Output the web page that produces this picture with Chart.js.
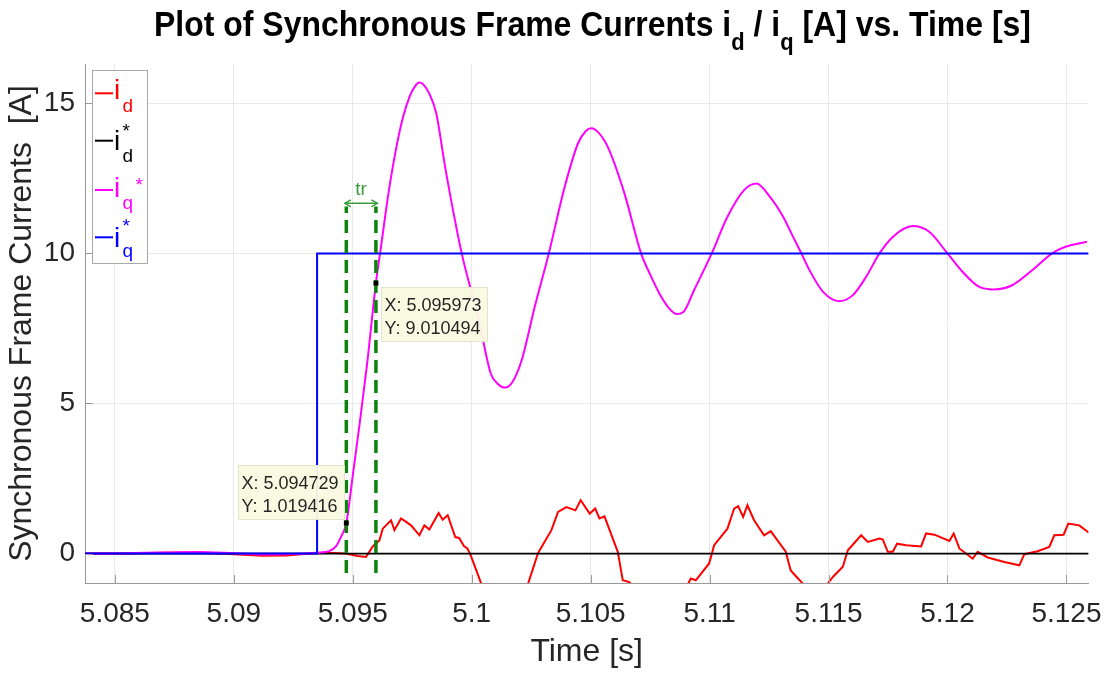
<!DOCTYPE html>
<html>
<head>
<meta charset="utf-8">
<script src="https://cdn.jsdelivr.net/npm/chart.js@4.4.1/dist/chart.umd.min.js"></script>
<style>
html,body{margin:0;padding:0;background:#fff;}
canvas{display:block;}
</style>
</head>
<body>
<canvas id="c" width="1116" height="673"></canvas>
<script>
// ---------- data ----------
const xMin = 5.083744, xMax = 5.125921;
const yMin = -0.98, yMax = 16.31;
const xTicks = [5.085, 5.09, 5.095, 5.1, 5.105, 5.11, 5.115, 5.12, 5.125];
const xTickLabels = ['5.085', '5.09', '5.095', '5.1', '5.105', '5.11', '5.115', '5.12', '5.125'];
const yTicks = [0, 5, 10, 15];
const yTickLabels = ['0', '5', '10', '15'];

// i_d (red)
const idT = [5.08374,5.0855,5.087,5.0885,5.0900,5.0912,5.0922,5.0932,5.0940,5.0947,5.0952,5.09556,5.09584,5.09612,5.09626,5.09661,5.09675,5.09703,5.09745,5.0978,5.09801,5.09822,5.09861,5.09878,5.09899,5.09931,5.09947,5.09968,5.09982,5.09996,5.1004,5.1012,5.1020,5.10237,5.10279,5.10335,5.10363,5.10398,5.10436,5.10458,5.10496,5.10519,5.10537,5.10558,5.10614,5.10635,5.10663,5.1072,5.1082,5.10907,5.10921,5.10942,5.10998,5.11019,5.11075,5.11103,5.1112,5.11141,5.11159,5.11187,5.11229,5.11257,5.1132,5.11341,5.11366,5.11392,5.1144,5.11497,5.11518,5.1156,5.11581,5.11637,5.11665,5.11714,5.11728,5.11749,5.1177,5.11788,5.11826,5.11889,5.1191,5.11945,5.12008,5.12026,5.1205,5.12106,5.12127,5.12169,5.12239,5.12302,5.12323,5.12379,5.12428,5.12449,5.12488,5.12508,5.12554,5.12596];
const idV = [0.0,0.0,0.03,0.04,-0.02,-0.07,-0.06,0.0,0.03,0.0,-0.08,-0.11,0.24,0.44,0.83,1.11,0.78,1.17,0.94,0.61,0.94,0.8,1.35,1.13,1.28,0.55,0.52,0.24,0.17,-0.06,-1.0,-1.9,-1.7,-1.0,0.02,0.78,1.39,1.55,1.44,1.78,1.33,1.5,1.17,1.24,0.06,-0.89,-0.95,-1.6,-1.9,-1.05,-0.83,-0.89,-0.33,0.28,0.83,1.5,1.58,1.22,1.61,1.11,0.61,0.75,0.06,-0.56,-0.78,-1.0,-1.4,-1.0,-0.78,-0.44,0.11,0.61,0.39,0.5,0.47,0.06,0.06,0.33,0.28,0.24,0.67,0.63,0.42,0.67,0.17,-0.17,0.06,-0.13,-0.28,-0.39,-0.02,0.08,0.22,0.61,0.63,1.0,0.94,0.69];

// i_d* (black)
const idRefT = [5.08374, 5.12596];
const idRefV = [0, 0];

// i_q (magenta)
const iqT = [5.08374,5.0855,5.0870,5.0885,5.0900,5.0912,5.0925,5.0935,5.0940,5.0943,5.0945,5.094729,5.0950,5.0953,5.0956,5.095973,5.0962,5.0965,5.0968,5.0971,5.0974,5.0976,5.0978,5.0980,5.0982,5.0985,5.0989,5.09958,5.1003,5.1008,5.1011,5.1014,5.1017,5.1021,5.10265,5.10324,5.10391,5.10447,5.1048,5.10503,5.1053,5.10572,5.10642,5.10712,5.1075,5.1079,5.1083,5.10861,5.1089,5.10935,5.11009,5.11075,5.11145,5.11197,5.11253,5.11309,5.11351,5.11386,5.1142,5.11477,5.11546,5.11602,5.11658,5.11714,5.1177,5.11854,5.11923,5.12,5.12063,5.12132,5.12195,5.12272,5.12356,5.1244,5.12496,5.12586];
const iqV = [0.0,0.01,0.04,0.05,0.01,-0.03,-0.01,0.03,0.08,0.25,0.55,1.019416,2.6,4.4,6.3,9.010494,10.3,12.0,13.4,14.5,15.25,15.55,15.69,15.6,15.35,14.7,12.8,10.0,7.78,6.0,5.65,5.53,5.7,6.44,8.22,10.0,12.22,13.67,14.08,14.17,14.05,13.55,12.0,10.0,9.3,8.65,8.17,7.98,8.05,8.78,10.0,11.22,12.11,12.33,11.89,11.22,10.55,10.0,9.44,8.72,8.41,8.61,9.22,10.0,10.55,10.91,10.72,10.0,9.39,8.89,8.8,8.94,9.44,10.0,10.22,10.39];

// i_q* (blue)
const iqRefT = [5.08374, 5.0935, 5.0935, 5.12596];
const iqRefV = [0, 0, 10, 10];

// rise-time markers / data tips
const tipX = [5.094729, 5.095973];
const tipY = [1.019416, 9.010494];
const tipTextX = ['X: 5.094729', 'X: 5.095973'];
const tipTextY = ['Y: 1.019416', 'Y: 9.010494'];
const trLineBottom = -0.65, trLineTop = 11.56, trArrowY = 11.67;
const trLabel = 'tr';

const titleParts = [['Plot of Synchronous Frame Currents i', 0], ['d', 1], [' / i', 0], ['q', 1], [' [A] vs. Time [s]', 0]];
const yTitle = 'Synchronous Frame Currents  [A]';
const xTitle = 'Time [s]';
const legendItems = [
  {color: '#ff0000', sub: 'd', star: false},
  {color: '#000000', sub: 'd', star: true},
  {color: '#ff00ff', sub: 'q', star: true, starFar: true},
  {color: '#0000ff', sub: 'q', star: true}
];

// ---------- helpers ----------
const pts = (t, v) => t.map((x, i) => ({x: x, y: v[i]}));
const FONT = '"Liberation Sans", Arial, Helvetica, sans-serif';
const GREEN = '#0d820d';
const GREEN2 = '#3a9c3a';
const AXIS = '#9a9a9a';

const extras = {
  id: 'extras',
  afterDraw(chart) {
    const ctx = chart.ctx;
    const xs = chart.scales.x, ys = chart.scales.y;
    const area = chart.chartArea;
    ctx.save();
    // inward ticks
    ctx.strokeStyle = AXIS; ctx.lineWidth = 1;
    xTicks.forEach(v => {
      const px = Math.round(xs.getPixelForValue(v)) + 0.5;
      ctx.beginPath(); ctx.moveTo(px, area.bottom); ctx.lineTo(px, area.bottom - 8); ctx.stroke();
    });
    yTicks.forEach(v => {
      const py = Math.round(ys.getPixelForValue(v)) + 0.5;
      ctx.beginPath(); ctx.moveTo(area.left, py); ctx.lineTo(area.left + 8, py); ctx.stroke();
    });

    // arrow for tr
    const ax1 = xs.getPixelForValue(tipX[0]) - 1.5, ax2 = xs.getPixelForValue(tipX[1]) + 1.5;
    const ay = ys.getPixelForValue(trArrowY);
    ctx.strokeStyle = GREEN2; ctx.lineWidth = 1.4;
    ctx.beginPath(); ctx.moveTo(ax1, ay); ctx.lineTo(ax2, ay); ctx.stroke();
    ctx.beginPath();
    ctx.moveTo(ax1 + 6, ay - 3.5); ctx.lineTo(ax1, ay); ctx.lineTo(ax1 + 6, ay + 3.5);
    ctx.moveTo(ax2 - 6, ay - 3.5); ctx.lineTo(ax2, ay); ctx.lineTo(ax2 - 6, ay + 3.5);
    ctx.stroke();
    ctx.fillStyle = GREEN2; ctx.font = '19px ' + FONT; ctx.textAlign = 'center'; ctx.textBaseline = 'alphabetic';
    ctx.fillText(trLabel, (ax1 + ax2) / 2, ay - 8);

    // data tips
    ctx.textAlign = 'left';
    ctx.font = '18px ' + FONT;
    tipX.forEach((xv, i) => {
      const mx = xs.getPixelForValue(xv), my = ys.getPixelForValue(tipY[i]);
      const w = 106, h = 54;
      let bx, by;
      if (i === 0) { bx = mx - 2 - w; by = my - 4 - h; } else { bx = mx + 5; by = my + 4; }
      bx = Math.round(bx) + 0.5; by = Math.round(by) + 0.5;
      ctx.fillStyle = 'rgba(250,250,226,0.95)';
      ctx.fillRect(bx, by, w, h);
      ctx.strokeStyle = '#e3e3cf'; ctx.lineWidth = 1;
      ctx.strokeRect(bx, by, w, h);
      ctx.fillStyle = '#262626';
      ctx.fillText(tipTextX[i], bx + 3, by + 23);
      ctx.fillText(tipTextY[i], bx + 3, by + 46.5);
    });

    // legend
    ctx.fillStyle = '#ffffff';
    ctx.fillRect(92.5, 70.5, 55, 193);
    ctx.strokeStyle = '#a8a8a8'; ctx.lineWidth = 1;
    ctx.strokeRect(92.5, 70.5, 55, 193);
    const lineY = [93.3, 140.7, 190, 237.3];
    const iBase = [98.5, 150, 196.7, 246.5];
    const subBase = [112, 162, 208.5, 257];
    const starC = [null, 126, 180, 221.7];
    legendItems.forEach((it, k) => {
      ctx.strokeStyle = it.color; ctx.lineWidth = 2;
      ctx.beginPath(); ctx.moveTo(95, lineY[k]); ctx.lineTo(113, lineY[k]); ctx.stroke();
      ctx.fillStyle = it.color;
      ctx.font = '28px ' + FONT;
      ctx.fillText('i', 114, iBase[k]);
      ctx.font = '19px ' + FONT;
      ctx.fillText(it.sub, 122.5, subBase[k]);
      if (it.star) {
        ctx.font = '19px ' + FONT;
        const sx = it.starFar ? 135.5 : 122.5;
        ctx.fillText('*', sx, starC[k] + 10.5);
      }
    });

    // title (condensed bold)
    const mainF = 'bold 35px ' + FONT, subF = 'bold 24px ' + FONT;
    let total = 0;
    titleParts.forEach(p => { ctx.font = p[1] ? subF : mainF; total += ctx.measureText(p[0]).width; });
    const targetW = 877, left = 154;
    const sxs = targetW / total;
    ctx.translate(left, 0); ctx.scale(sxs, 1);
    ctx.fillStyle = '#000000';
    let cx = 0;
    titleParts.forEach(p => {
      ctx.font = p[1] ? subF : mainF;
      ctx.fillText(p[0], cx, p[1] ? 50 : 36);
      cx += ctx.measureText(p[0]).width;
    });
    ctx.restore();
  }
};

const lineDS = (label, data, color, width, order) => ({
  label, data, borderColor: color, backgroundColor: color, borderWidth: width,
  pointRadius: 0, tension: 0, fill: false, order, clip: 0
});

new Chart(document.getElementById('c'), {
  type: 'line',
  data: {
    datasets: [
      {
        label: 'markers', data: pts(tipX, tipY), showLine: false,
        pointStyle: 'rect', pointRadius: 3.5, backgroundColor: '#000', borderColor: '#000', borderWidth: 0, order: -2, clip: false
      },
      Object.assign(lineDS('tr1', pts([tipX[0], tipX[0]], [trLineBottom, trLineTop]), GREEN, 3.5, -1), {borderDash: [13, 7], clip: false}),
      Object.assign(lineDS('tr2', pts([tipX[1], tipX[1]], [trLineBottom, trLineTop]), GREEN, 3.5, -1), {borderDash: [13, 7], clip: false}),
      lineDS('iq*', pts(iqRefT, iqRefV), '#0000ff', 2, 1),
      Object.assign(lineDS('iq', pts(iqT, iqV), '#ff00ff', 2, 2), {cubicInterpolationMode: 'monotone'}),
      lineDS('id*', pts(idRefT, idRefV), '#000000', 1.8, 3),
      lineDS('id', pts(idT, idV), '#ff0000', 2, 4)
    ]
  },
  options: {
    responsive: false,
    animation: false,
    devicePixelRatio: 1,
    layout: {padding: {left: 0, right: 24, top: 64, bottom: 0}},
    plugins: {legend: {display: false}, tooltip: {enabled: false}, title: {display: false}},
    scales: {
      x: {
        type: 'linear', min: xMin, max: xMax,
        afterBuildTicks: s => { s.ticks = xTicks.map(v => ({value: v})); },
        afterFit: s => { s.height = 90; },
        ticks: {
          autoSkip: false, maxRotation: 0, minRotation: 0, padding: 14,
          color: '#262626', font: {family: FONT, size: 28},
          callback: (v, i) => xTickLabels[i]
        },
        grid: {color: '#e9e9e9', lineWidth: 1, drawTicks: false},
        border: {display: true, color: AXIS, width: 1},
        title: {display: true, text: xTitle, color: '#262626', font: {family: FONT, size: 32}, padding: {top: 0, bottom: 2}}
      },
      y: {
        type: 'linear', min: yMin, max: yMax,
        afterBuildTicks: s => { s.ticks = yTicks.map(v => ({value: v})); },
        afterFit: s => { s.width = 85; },
        ticks: {
          autoSkip: false, padding: 10,
          color: '#262626', font: {family: FONT, size: 28},
          callback: (v, i) => yTickLabels[i]
        },
        grid: {color: '#e9e9e9', lineWidth: 1, drawTicks: false},
        border: {display: true, color: AXIS, width: 1},
        title: {display: true, text: yTitle, color: '#262626', font: {family: FONT, size: 32}, padding: {top: 3, bottom: 0}}
      }
    }
  },
  plugins: [extras]
});
</script>
</body>
</html>
